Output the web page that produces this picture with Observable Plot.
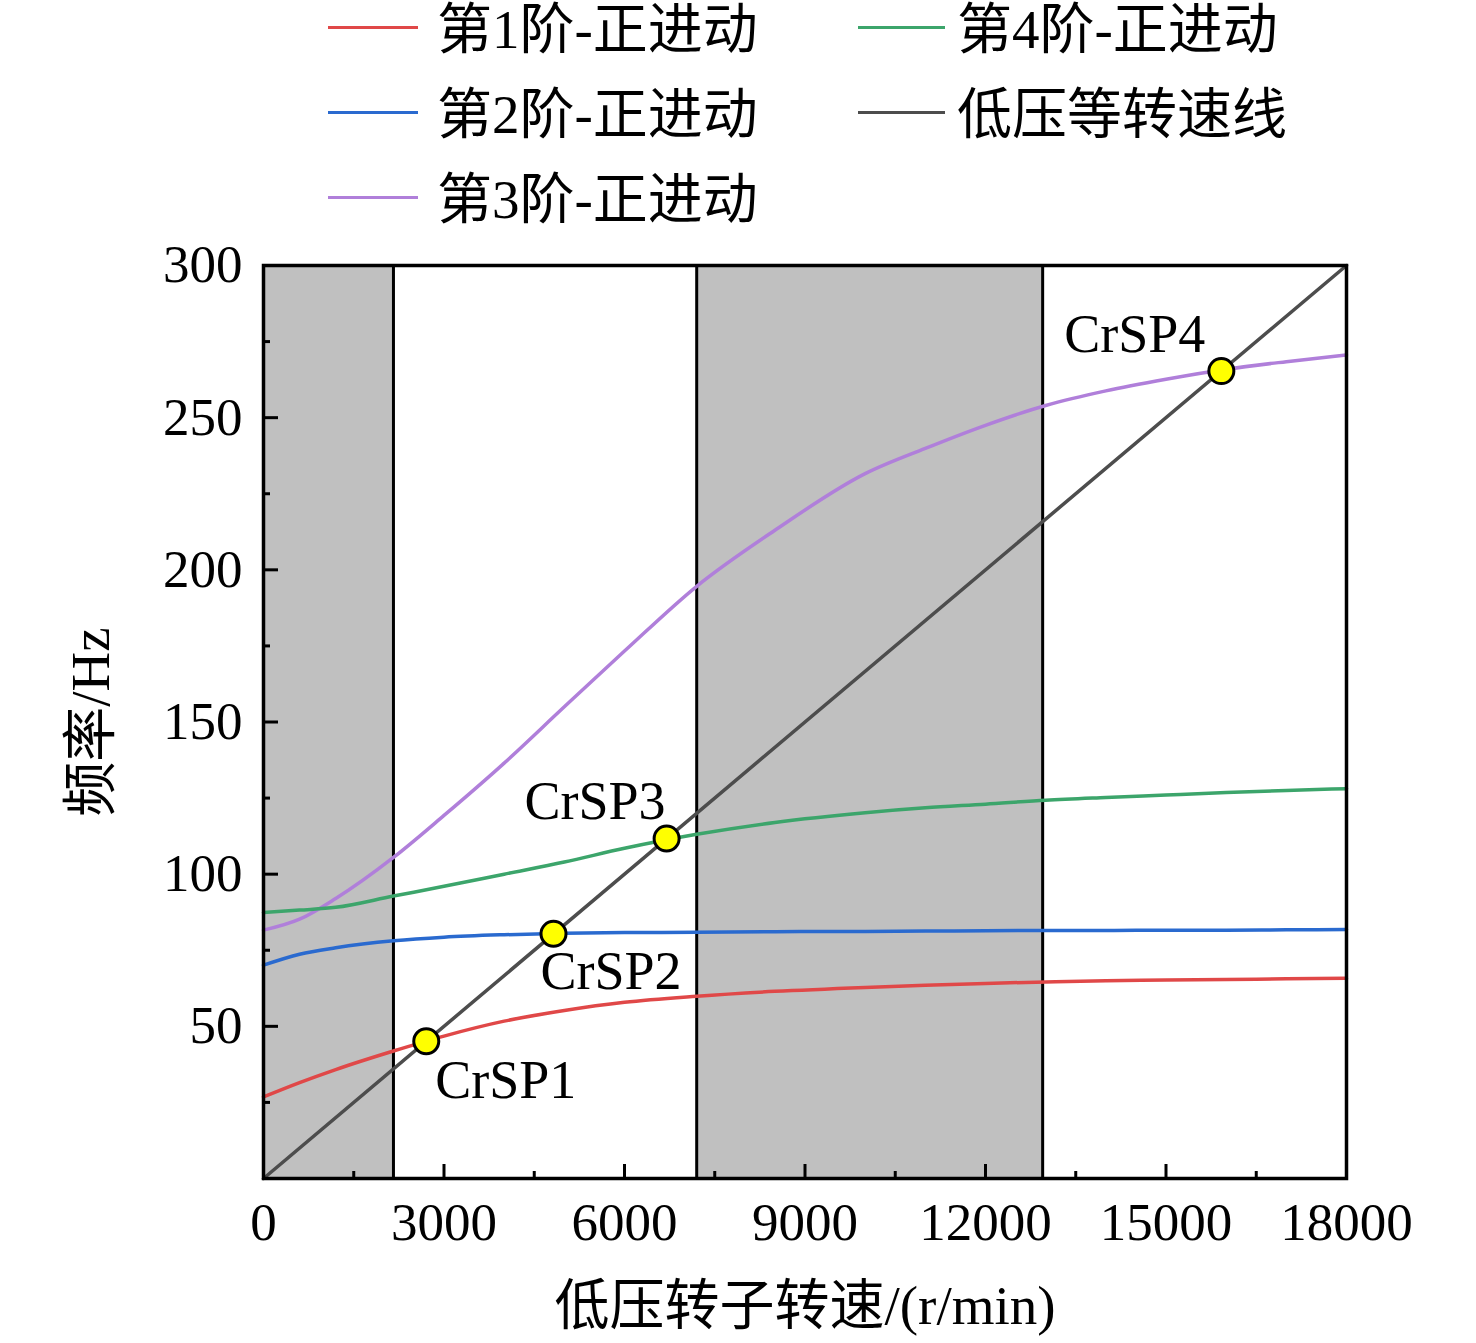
<!DOCTYPE html>
<html><head><meta charset="utf-8">
<script src="https://cdn.jsdelivr.net/npm/d3@7"></script>
<script src="https://cdn.jsdelivr.net/npm/@observablehq/plot@0.6"></script>
<style>
html,body{margin:0;padding:0;background:#fff;}
body{position:relative;width:1476px;height:1343px;overflow:hidden;font-family:"Liberation Serif","Noto Sans CJK SC",serif;}
#legend{position:absolute;left:0;top:0;width:1476px;height:240px;z-index:2;}
#chart{position:absolute;left:0;top:0;z-index:1;}
.sw{position:absolute;height:0;border-top:3px solid;}
.lab{position:absolute;font-size:55px;line-height:60px;height:60px;color:#000;white-space:nowrap;}
</style></head><body>
<div id="chart"></div>
<div id="legend"></div>
<script>
// ---- data ----
const rpm    = [0, 600, 1200, 2160, 3000, 4000, 5000, 6000, 7200, 8500, 10000, 11000, 12000, 13000, 14000, 15000, 16000, 17000, 18000];
const order1 = [26.8, 31.5, 35.8, 41.9, 46.8, 51.7, 55.2, 57.9, 59.9, 61.5, 62.8, 63.5, 64.1, 64.6, 65.0, 65.2, 65.4, 65.6, 65.8];
const order2 = [70.1, 73.7, 75.8, 78.1, 79.3, 80.1, 80.6, 80.8, 80.9, 81.1, 81.2, 81.3, 81.4, 81.5, 81.5, 81.6, 81.6, 81.7, 81.8];
const order3 = [81.6, 85.2, 92.0, 105.5, 119.3, 136.5, 155.0, 173.3, 194.6, 213.0, 231.6, 239.9, 247.5, 254.0, 258.8, 262.6, 265.9, 268.4, 270.6];
const order4 = [87.4, 88.2, 89.1, 92.8, 96.0, 100.0, 104.0, 108.5, 113.1, 117.0, 120.2, 121.8, 123.0, 124.3, 125.2, 126.0, 126.8, 127.5, 128.1];
const isoRpm  = [0, 18000];
const isoFreq = [0, 300];
const crspNames = ["CrSP1", "CrSP2", "CrSP3", "CrSP4"];
const crspRpm   = [2705, 4820, 6700, 15920];
const crspFreq  = [45.1, 80.4, 111.7, 265.3];
const bandStart = [0, 7200];
const bandEnd   = [2160, 12950];
const seriesNames = ["第1阶-正进动", "第2阶-正进动", "第3阶-正进动", "第4阶-正进动", "低压等转速线"];
const xTicks      = [0, 3000, 6000, 9000, 12000, 15000, 18000];
const xMinorTicks = [1500, 4500, 7500, 10500, 13500, 16500];
const yTicks      = [50, 100, 150, 200, 250, 300];
const yMinorTicks = [25, 75, 125, 175, 225, 275];
const xTitle = "低压转子转速/(r/min)";
const yTitle = "频率/Hz";

// ---- styles ----
const seriesColors = ["#e04848", "#2a6acf", "#b07fda", "#3ca56b", "#4d4d4d"];
const FONT = "'Liberation Serif','Noto Sans CJK SC',serif";

// ---- legend ----
const legend = document.getElementById("legend");
const legendPos = [[328, 27], [328, 112], [328, 197], [858, 27], [858, 112]];
seriesNames.forEach((name, i) => {
  const [lx, cy] = legendPos[i];
  const sw = document.createElement("div");
  sw.className = "sw";
  sw.style.left = lx + "px";
  sw.style.top = (cy - 1) + "px";
  sw.style.width = (i < 3 ? 90 : 87) + "px";
  sw.style.borderTopColor = seriesColors[i];
  legend.appendChild(sw);
  const t = document.createElement("div");
  t.className = "lab";
  t.style.left = (i < 3 ? 437 : 957) + "px";
  t.style.top = (cy - 27) + "px";
  t.textContent = name;
  legend.appendChild(t);
});

// ---- tables built from arrays ----
const curveRows = [];
[order1, order2, order3, order4].forEach((vals, i) =>
  vals.forEach((v, j) => curveRows.push({rpm: rpm[j], f: v, s: seriesNames[i]})));
const isoRows = isoRpm.map((x, i) => ({rpm: x, f: isoFreq[i]}));
const crspRows = crspNames.map((n, i) => ({name: n, rpm: crspRpm[i], f: crspFreq[i]}));
const bandRows = bandStart.map((s, i) => ({x1: s, x2: bandEnd[i]}));
const bandEdges = [...bandStart.filter(d => d > 0), ...bandEnd];

const W = 1476, H = 1343, ML = 263, MR = 130, MT = 265, MB = 165;
const FW = W - ML - MR, FH = H - MT - MB;

const labelOffsets = [
  {dx: 9, dy: 39, anchor: "start"},
  {dx: -13, dy: 38, anchor: "start"},
  {dx: -1, dy: -37, anchor: "end"},
  {dx: -16, dy: -36, anchor: "end"}
];

const chart = Plot.plot({
  width: W, height: H,
  marginLeft: ML, marginRight: MR, marginTop: MT, marginBottom: MB,
  x: {domain: [0, 18000]},
  y: {domain: [0, 300]},
  color: {domain: seriesNames, range: seriesColors},
  style: {fontFamily: FONT, fontSize: "53px", color: "#000", background: "#fff"},
  marks: [
    Plot.rect(bandRows, {x1: "x1", x2: "x2", fill: "#c0c0c0"}),
    Plot.ruleX(bandEdges, {x: d => d, stroke: "#000", strokeWidth: 3}),
    Plot.line(curveRows, {x: "rpm", y: "f", z: "s", stroke: "s", strokeWidth: 3.5, curve: "monotone-x"}),
    Plot.line(isoRows, {x: "rpm", y: "f", stroke: seriesColors[4], strokeWidth: 3.5}),
    Plot.dot(crspRows, {x: "rpm", y: "f", r: 12.5, fill: "#ffff00", stroke: "#000", strokeWidth: 3}),
    ...crspRows.map((row, i) => Plot.text([row], {
      x: "rpm", y: "f", text: "name", dx: labelOffsets[i].dx, dy: labelOffsets[i].dy,
      textAnchor: labelOffsets[i].anchor, fontSize: 54, fontFamily: FONT, fill: "#000"
    })),
    Plot.tickX(xTicks, {x: d => d, insetTop: FH - 14, stroke: "#000", strokeWidth: 3}),
    Plot.tickX(xMinorTicks, {x: d => d, insetTop: FH - 7, stroke: "#000", strokeWidth: 3}),
    Plot.tickY(yTicks, {y: d => d, insetRight: FW - 15, stroke: "#000", strokeWidth: 3}),
    Plot.tickY(yMinorTicks, {y: d => d, insetRight: FW - 7, stroke: "#000", strokeWidth: 3}),
    Plot.axisX({ticks: xTicks, tickSize: 0, tickPadding: 24, tickFormat: d => String(d), label: null, fontSize: 53, fontFamily: FONT}),
    Plot.axisY({ticks: yTicks, tickSize: 0, tickPadding: 21, tickFormat: d => String(d), label: null, fontSize: 53, fontFamily: FONT}),
    Plot.text([xTitle], {text: d => d, frameAnchor: "bottom", textAnchor: "middle", lineAnchor: "middle", dy: 128, fontSize: 55, fontFamily: FONT, fill: "#000"}),
    Plot.text([yTitle], {text: d => d, frameAnchor: "left", textAnchor: "middle", lineAnchor: "middle", dx: -172, rotate: -90, fontSize: 55, fontFamily: FONT, fill: "#000"}),
    Plot.frame({stroke: "#000", strokeWidth: 3.5})
  ]
});
document.getElementById("chart").appendChild(chart);
</script>
</body></html>
